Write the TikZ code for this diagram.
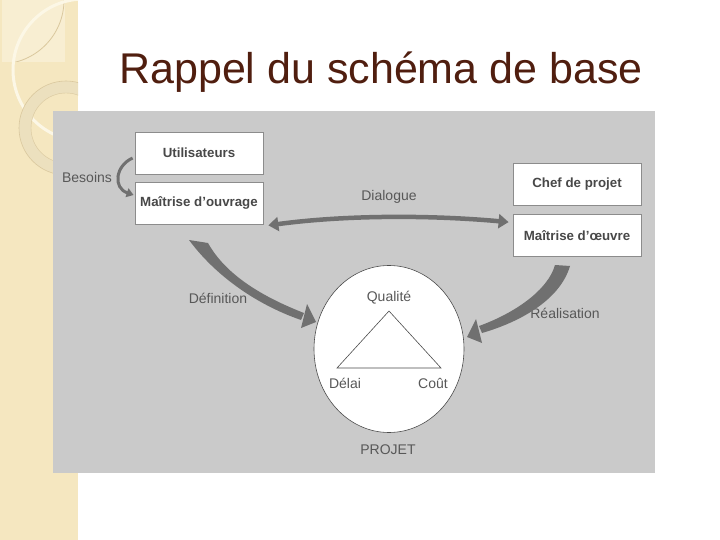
\documentclass[tikz,border=0pt]{standalone}
\usepackage{fontspec}
\setmainfont{Liberation Sans}
\usetikzlibrary{arrows.meta,shapes.geometric,calc}
\definecolor{beige}{RGB}{245,231,192}
\definecolor{beigelight}{RGB}{248,238,210}
\definecolor{creamline}{RGB}{252,247,230}
\definecolor{ringc}{RGB}{236,224,190}
\definecolor{ringedge}{RGB}{218,200,158}
\definecolor{panel}{RGB}{202,202,202}
\definecolor{boxborder}{RGB}{140,140,140}
\definecolor{boxtext}{RGB}{72,72,72}
\definecolor{labeltext}{RGB}{88,88,88}
\definecolor{arrowc}{RGB}{112,112,112}
\definecolor{titlebrown}{RGB}{80,30,15}
\tikzset{
  boxnode/.style={draw=boxborder, fill=white, line width=0.8pt, minimum width=128pt,
    minimum height=42pt, inner sep=0pt, text=boxtext, font=\fontsize{13.3}{15}\selectfont\bfseries},
  lbl/.style={text=labeltext, inner sep=0pt, font=\fontsize{14}{16}\selectfont},
  dlg/.style={draw=arrowc, line width=4.5pt, {Triangle[length=10pt,width=14pt]}-{Triangle[length=10pt,width=14pt]}},
  besarrow/.style={draw=arrowc, line width=3pt, -{Triangle[length=7pt,width=9pt]}},
  taper/.style={fill=arrowc}
}
\begin{document}
\begin{tikzpicture}[x=1pt,y=-1pt]
\useasboundingbox (0,0) rectangle (720,540);
\fill[white] (0,0) rectangle (720,540);
% left decorative strip
\fill[beige] (0,0) rectangle (78,540);
\begin{scope}
  \clip (0,0) rectangle (78,540);
  \fill[beigelight] (2,0) rectangle (65,62);
  \begin{scope}
    \clip (2,0) rectangle (65,62);
    \draw[ringedge, line width=0.8pt] (0,0) circle (64);
  \end{scope}
  \draw[creamline, line width=3pt] (84,70) circle (71);
  \draw[ringc, line width=12pt] (66,128) circle (41);
  \draw[ringedge, line width=0.6pt] (66,128) circle (47);
  \draw[ringedge, line width=0.4pt] (66,128) circle (35);
\end{scope}
% title
\node[font=\fontsize{43}{50}\selectfont, text=titlebrown, anchor=base, inner sep=0pt] (title) at (381,84) {Rappel du schéma de base};
% grey panel
\fill[panel] (53,111) rectangle (655,473);
% boxes
\node[boxnode] (ut) at (199,153) {Utilisateurs};
\node[boxnode] (mo) at (199,203) {Maîtrise d’ouvrage};
\node[boxnode] (chef) at (577,184) {Chef de projet};
\node[boxnode] (moe) at (577,235.5) {Maîtrise d’œuvre};
% project circle
\node[ellipse, draw=black!70, fill=white, line width=0.6pt, minimum width=150pt, minimum height=167pt, inner sep=0pt] (proj) at (389,349) {};
\coordinate (q) at (389,311);
\coordinate (d) at (337,368);
\coordinate (c) at (441,368);
\draw[black!70, line width=0.6pt] (q) -- (d) -- (c) -- cycle;
% labels
\node[lbl] (qual) at (389,298) {Qualité};
\node[lbl] (delai) at (345,383) {Délai};
\node[lbl] (cout) at (433,383) {Coût};
\node[lbl] (projet) at (388,450) {PROJET};
\node[lbl] (besoins) at (87,177) {Besoins};
\node[lbl] (dialogue) at (389,197) {Dialogue};
\node[lbl] (definition) at (218,298) {Définition};
\node[lbl] (realisation) at (565,313) {Réalisation};
% Besoins arrow
\draw[besarrow] ($(ut.west)+(-2,5)$) .. controls (115,166) and (113,188) .. ($(mo.west)+(-1,-8)$);
% Dialogue arrow
\draw[dlg] ($(mo.south east)+(5,1)$) .. controls (345,215) and (430,215) .. ($(moe.north west)+(-4,8)$);
% Definition tapered arrow
\coordinate (deftip) at (316,322);
\fill[taper] (208,243) .. controls (222,268) and (250,292) .. (304,313)
  -- (301,320) .. controls (255,304) and (215,275) .. (189,240) -- cycle;
\fill[taper] (deftip) -- (307,304) -- (301,328) -- cycle;
% Realisation tapered arrow
\coordinate (realtip) at (467,337);
\fill[taper] (570,266) .. controls (560,300) and (520,322) .. (482,333)
  -- (479,326) .. controls (515,313) and (548,290) .. (555,265) -- cycle;
\fill[taper] (realtip) -- (476,319) -- (482,343) -- cycle;
\end{tikzpicture}
\end{document}
